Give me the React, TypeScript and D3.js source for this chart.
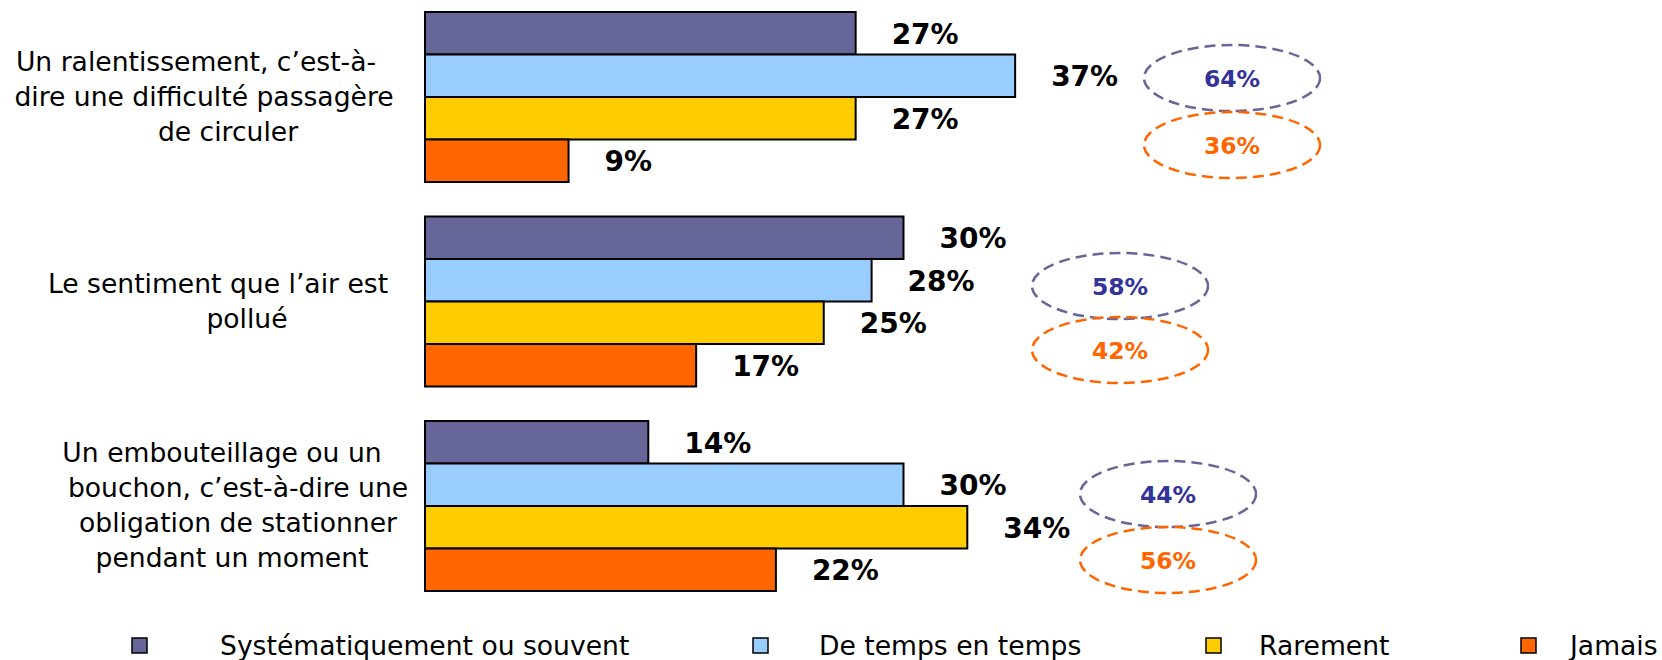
import React from "react";
import * as d3 from "d3";

// ---- Data ----
const CATEGORY_LINES: string[][] = [
  ["Un ralentissement, c’est-à-", "dire une difficulté passagère", "de circuler"],
  ["Le sentiment que l’air est", "pollué"],
  ["Un embouteillage ou un", "bouchon, c’est-à-dire une", "obligation de stationner", "pendant un moment"],
];
const CATEGORIES = ["ralentissement", "air pollué", "embouteillage"];
const SERIES = ["Systématiquement ou souvent", "De temps en temps", "Rarement", "Jamais"];
const SYSTEMATIQUEMENT = [27, 30, 14];
const DE_TEMPS_EN_TEMPS = [37, 28, 30];
const RAREMENT = [27, 25, 34];
const JAMAIS = [9, 17, 22];
const SERIES_VALUES = [SYSTEMATIQUEMENT, DE_TEMPS_EN_TEMPS, RAREMENT, JAMAIS];

// ---- Style / layout ----
const W = 1662;
const H = 660;
const COLORS = ["#666699", "#99CCFF", "#FFCC00", "#FF6600"];
const FONT = "'DejaVu Sans', Verdana, sans-serif";
const LABEL_CX = [
  [196, 204, 228],
  [218, 247],
  [222, 238, 238, 232],
];
const LINE_H = 35;
const ELLIPSE_CX = [1232, 1120, 1168];
const ELLIPSE_CY_TOP = [78, 286, 494];
const ELLIPSE_CY_BOTTOM = [145, 350, 560];
const ELLIPSE_RX = 88;
const ELLIPSE_RY = 33;
const LEGEND_SWATCH_X = [132, 753, 1206, 1521];
const LEGEND_TEXT_X = [220, 819, 1259, 1570];
const LEGEND_Y = 646;

export default function App() {
  const x = d3.scaleLinear().domain([0, 100]).range([425, 425 + 1595]);
  const y = d3.scaleBand<string>().domain(CATEGORIES).range([12, 591]).paddingInner(0.1687).paddingOuter(0);
  const inner = d3.scaleBand<string>().domain(SERIES).range([0, y.bandwidth()]).padding(0);

  return (
    <svg
      width={W}
      height={H}
      style={{ position: "absolute", left: 0, top: 0, background: "#fff" }}
      fontFamily={FONT}
    >
      {CATEGORIES.map((cat, gi) => {
        const gy = y(cat)!;
        const center = gy + y.bandwidth() / 2;
        const lines = CATEGORY_LINES[gi];
        const n = lines.length;
        const topSum = SYSTEMATIQUEMENT[gi] + DE_TEMPS_EN_TEMPS[gi];
        const botSum = RAREMENT[gi] + JAMAIS[gi];
        return (
          <g key={cat}>
            {lines.map((ln, li) => (
              <text
                key={li}
                x={LABEL_CX[gi][li]}
                y={center + (li - (n - 1) / 2) * LINE_H + 9}
                textAnchor="middle"
                fontSize={26.6}
                fill="#000"
              >
                {ln}
              </text>
            ))}
            {SERIES.map((s, si) => {
              const v = SERIES_VALUES[si][gi];
              const by = gy + inner(s)!;
              const bh = inner.bandwidth();
              return (
                <g key={s}>
                  <rect
                    x={x(0)}
                    y={by}
                    width={x(v) - x(0)}
                    height={bh}
                    fill={COLORS[si]}
                    stroke="#000"
                    strokeWidth={2}
                  />
                  <text
                    x={x(v) + 36}
                    y={by + bh / 2 + 1}
                    dominantBaseline="central"
                    fontSize={28}
                    fontWeight="bold"
                    fill="#000"
                  >
                    {v}%
                  </text>
                </g>
              );
            })}
            <ellipse
              cx={ELLIPSE_CX[gi]}
              cy={ELLIPSE_CY_TOP[gi]}
              rx={ELLIPSE_RX}
              ry={ELLIPSE_RY}
              fill="none"
              stroke="#666699"
              strokeWidth={2.5}
              strokeDasharray="11,6"
            />
            <text
              x={ELLIPSE_CX[gi]}
              y={ELLIPSE_CY_TOP[gi] + 1}
              textAnchor="middle"
              dominantBaseline="central"
              fontSize={23.5}
              fontWeight="bold"
              fill="#333399"
            >
              {topSum}%
            </text>
            <ellipse
              cx={ELLIPSE_CX[gi]}
              cy={ELLIPSE_CY_BOTTOM[gi]}
              rx={ELLIPSE_RX}
              ry={ELLIPSE_RY}
              fill="none"
              stroke="#FF6600"
              strokeWidth={2.5}
              strokeDasharray="11,6"
            />
            <text
              x={ELLIPSE_CX[gi]}
              y={ELLIPSE_CY_BOTTOM[gi] + 1}
              textAnchor="middle"
              dominantBaseline="central"
              fontSize={23.5}
              fontWeight="bold"
              fill="#FF6600"
            >
              {botSum}%
            </text>
          </g>
        );
      })}
      {SERIES.map((s, si) => (
        <g key={s}>
          <rect
            x={LEGEND_SWATCH_X[si]}
            y={LEGEND_Y - 8}
            width={15}
            height={15}
            fill={COLORS[si]}
            stroke="#000"
            strokeWidth={1.5}
          />
          <text x={LEGEND_TEXT_X[si]} y={LEGEND_Y + 9} fontSize={26.6} fill="#000">
            {s}
          </text>
        </g>
      ))}
    </svg>
  );
}
